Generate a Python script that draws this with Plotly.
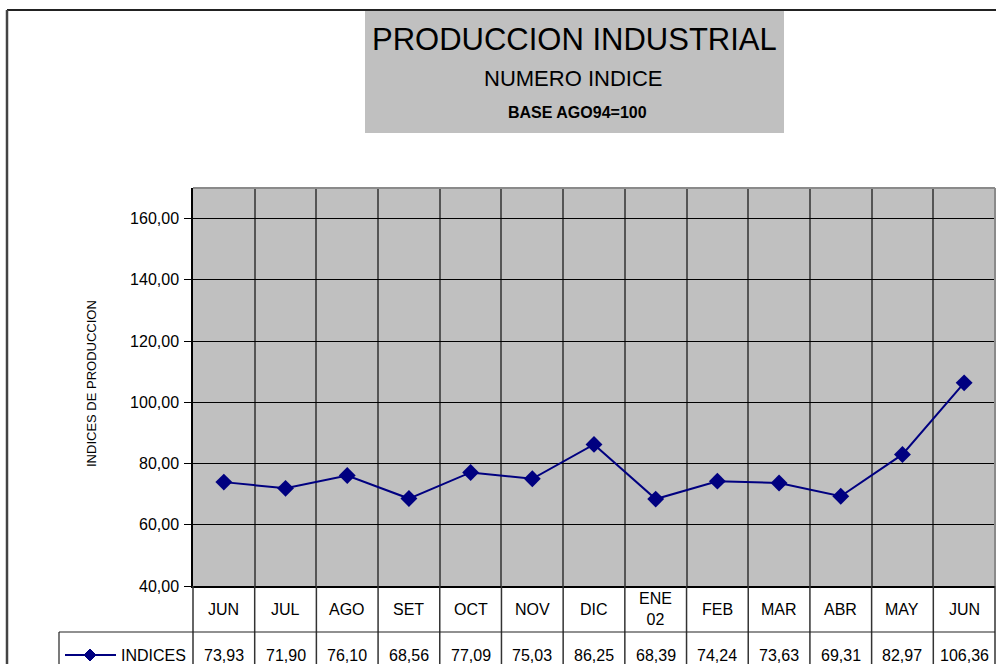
import plotly.graph_objects as go

categories = ["JUN", "JUL", "AGO", "SET", "OCT", "NOV", "DIC", "ENE<br>02",
              "FEB", "MAR", "ABR", "MAY", "JUN"]
indices = [73.93, 71.90, 76.10, 68.56, 77.09, 75.03, 86.25, 68.39,
           74.24, 73.63, 69.31, 82.97, 106.36]
y_ticks = [40, 60, 80, 100, 120, 140, 160]
series_name = "INDICES"

W, H = 996, 664
PL, PR, PT, PB = 193, 995, 188, 586
FONT = "Liberation Sans, Arial, sans-serif"
NAVY = "#000080"


def px(x):
    return (x - PL) / (PR - PL)


def py(y):
    return (PB - y) / (PB - PT)


def fmt(v):
    return f"{v:.2f}".replace(".", ",")


n = len(categories)
xs = list(range(n))

fig = go.Figure()
fig.add_trace(go.Scatter(
    x=xs, y=indices, mode="lines+markers", name=series_name,
    line=dict(color=NAVY, width=2),
    marker=dict(symbol="diamond", size=13, color=NAVY),
    showlegend=False, hoverinfo="y",
))

shapes = []
annotations = []


def text(t, x, y, size, xref="paper", xanchor="center", angle=0):
    annotations.append(dict(text=t, x=x, y=y, xref=xref, yref="paper",
                            xanchor=xanchor, yanchor="middle", showarrow=False,
                            textangle=angle,
                            font=dict(family=FONT, size=size, color="black")))


# outer chart border
shapes.append(dict(type="line", xref="paper", yref="paper",
                   x0=px(7), x1=px(1000), y0=py(10), y1=py(10),
                   line=dict(color="#222222", width=2)))
shapes.append(dict(type="line", xref="paper", yref="paper",
                   x0=px(7), x1=px(7), y0=py(10), y1=py(670),
                   line=dict(color="#444444", width=2.5)))

# title box
shapes.append(dict(type="rect", xref="paper", yref="paper",
                   x0=px(365), x1=px(784), y0=py(11), y1=py(133),
                   fillcolor="#C0C0C0", line=dict(width=0), layer="below"))
text("PRODUCCION INDUSTRIAL", px(574), py(39), 31)
text("NUMERO INDICE", px(573), py(79), 22)
text("<b>BASE AGO94=100</b>", px(577), py(112), 16)

# plot area border (top / right)
shapes.append(dict(type="line", xref="paper", yref="paper", x0=0, x1=1, y0=1, y1=1,
                   line=dict(color="#8a8a8a", width=2)))
shapes.append(dict(type="line", xref="paper", yref="paper", x0=1, x1=1, y0=0, y1=1,
                   line=dict(color="#8a8a8a", width=2)))

# data table lines
for i in range(n + 1):
    shapes.append(dict(type="line", xref="paper", yref="paper",
                       x0=i / n, x1=i / n, y0=0, y1=py(670),
                       line=dict(color="#333333", width=1.5)))
shapes.append(dict(type="line", xref="paper", yref="paper",
                   x0=px(59), x1=1, y0=py(632), y1=py(632),
                   line=dict(color="#222222", width=1.2)))
shapes.append(dict(type="line", xref="paper", yref="paper",
                   x0=px(59), x1=px(59), y0=py(632), y1=py(670),
                   line=dict(color="#222222", width=1.2)))

# legend key in table
shapes.append(dict(type="line", xref="paper", yref="paper",
                   x0=px(65), x1=px(116), y0=py(655), y1=py(655),
                   line=dict(color=NAVY, width=2)))
cx, cy, r = 90, 655, 6
shapes.append(dict(type="path", xref="paper", yref="paper",
                   path=f"M {px(cx)} {py(cy - r)} L {px(cx + r)} {py(cy)} "
                        f"L {px(cx)} {py(cy + r)} L {px(cx - r)} {py(cy)} Z",
                   fillcolor=NAVY, line=dict(color=NAVY, width=1)))
text(series_name, px(119), py(655), 16, xanchor="left")

for i, (c, v) in enumerate(zip(categories, indices)):
    text(c, i, py(609), 16, xref="x")
    text(fmt(v), i, py(655), 16, xref="x")

# y axis title
text("INDICES DE PRODUCCION", px(91), py(384), 13, angle=-90)

fig.update_layout(
    width=W, height=H, autosize=False,
    margin=dict(l=PL, r=W - PR, t=PT, b=H - PB, pad=0),
    paper_bgcolor="white", plot_bgcolor="#C0C0C0",
    shapes=shapes, annotations=annotations, showlegend=False,
    xaxis=dict(range=[-0.5, n - 0.5], tickvals=[i - 0.5 for i in range(n + 1)],
               showticklabels=False, ticks="", showgrid=True, gridcolor="#555555",
               gridwidth=1.5, showline=True, linecolor="black", linewidth=1.5,
               zeroline=False, fixedrange=True),
    yaxis=dict(range=[40, 170], tickvals=y_ticks, ticktext=[fmt(t) for t in y_ticks],
               ticks="outside", ticklen=7, tickcolor="black", tickwidth=1,
               showgrid=True, gridcolor="black", gridwidth=1,
               showline=True, linecolor="black", linewidth=1.5, zeroline=False,
               tickfont=dict(family=FONT, size=16, color="black"), ticklabelstandoff=2,
               fixedrange=True),
)

fig.write_html("out.html", config={"displayModeBar": False},
               post_script="document.body.style.margin='0';document.body.style.overflow='hidden';")
